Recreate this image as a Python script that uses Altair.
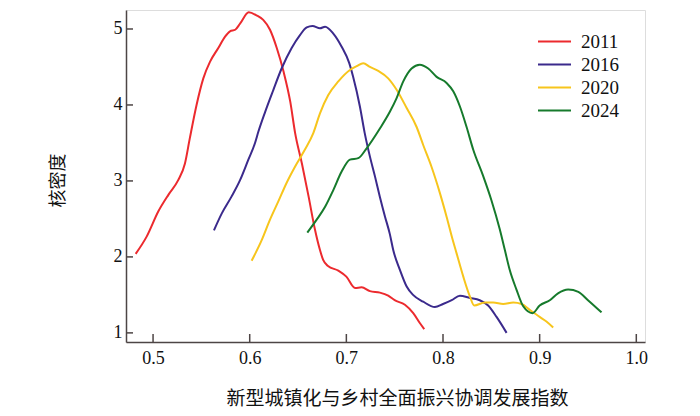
import altair as alt
import pandas as pd

years = ["2011", "2016", "2020", "2024"]
colors = ["#ec2a2e", "#3b2a8c", "#f7c51c", "#167a2c"]

x2011 = [0.482, 0.4935, 0.5055, 0.516, 0.526, 0.533, 0.538, 0.545, 0.552, 0.559, 0.5675, 0.5745, 0.5796, 0.585,
         0.590, 0.599, 0.607, 0.614, 0.621, 0.628, 0.635, 0.642, 0.647, 0.654, 0.661, 0.6675, 0.6727, 0.676,
         0.681, 0.6917, 0.700, 0.709, 0.7158, 0.7244, 0.7347, 0.7433, 0.750, 0.7606, 0.7692, 0.776, 0.7806]
y2011 = [2.04, 2.27, 2.60, 2.82, 3.01, 3.23, 3.56, 4.00, 4.35, 4.57, 4.75, 4.90, 4.97, 4.99,
         5.07, 5.22, 5.18, 5.12, 4.99, 4.75, 4.44, 4.04, 3.63, 3.23, 2.79, 2.36, 2.09, 1.96,
         1.88, 1.82, 1.74, 1.59, 1.60, 1.55, 1.53, 1.49, 1.43, 1.37, 1.26, 1.13, 1.05]

x2016 = [0.563, 0.571, 0.581, 0.590, 0.5986, 0.6055, 0.609, 0.616, 0.6245, 0.633, 0.6434, 0.652, 0.659, 0.665,
         0.6727, 0.678, 0.6865, 0.695, 0.703, 0.707, 0.714, 0.719, 0.7244, 0.7296, 0.7347, 0.740, 0.745,
         0.7485, 0.7554, 0.7624, 0.769, 0.7795, 0.7916, 0.800, 0.809, 0.8175, 0.8278, 0.838, 0.8467, 0.8554, 0.8658]
y2016 = [2.35, 2.57, 2.79, 3.01, 3.28, 3.50, 3.65, 3.91, 4.20, 4.48, 4.75, 4.92, 5.02, 5.04,
         5.01, 5.03, 4.94, 4.77, 4.55, 4.37, 3.98, 3.63, 3.32, 3.06, 2.79, 2.53, 2.30,
         2.09, 1.83, 1.61, 1.50, 1.41, 1.34, 1.38, 1.43, 1.49, 1.46, 1.43, 1.36, 1.21, 1.00]

x2020 = [0.602, 0.6124, 0.621, 0.6296, 0.638, 0.647, 0.657, 0.6658, 0.6727, 0.6813, 0.6917, 0.7037, 0.7106,
         0.7175, 0.7244, 0.733, 0.7433, 0.752, 0.7624, 0.7727, 0.7796, 0.788, 0.7968, 0.8037, 0.8095, 0.814,
         0.821, 0.8278, 0.8323, 0.8433, 0.852, 0.8623, 0.8727, 0.8813, 0.890, 0.900, 0.907, 0.914]
y2020 = [1.95, 2.22, 2.49, 2.73, 2.97, 3.19, 3.41, 3.63, 3.89, 4.13, 4.31, 4.46, 4.51,
         4.55, 4.50, 4.45, 4.35, 4.20, 3.96, 3.71, 3.47, 3.19, 2.84, 2.53, 2.25, 2.05,
         1.74, 1.48, 1.36, 1.40, 1.40, 1.38, 1.40, 1.38, 1.30, 1.21, 1.15, 1.07]

x2024 = [0.6596, 0.6693, 0.678, 0.6865, 0.695, 0.7037, 0.7123, 0.721, 0.7347, 0.745, 0.752, 0.7589, 0.7675,
         0.776, 0.7847, 0.7934, 0.8037, 0.8106, 0.8175, 0.8244, 0.8313, 0.8417, 0.850, 0.8588, 0.864, 0.869,
         0.876, 0.883, 0.8926, 0.900, 0.9105, 0.919, 0.9295, 0.940, 0.950, 0.964]
y2024 = [2.32, 2.49, 2.66, 2.88, 3.12, 3.28, 3.30, 3.43, 3.69, 3.91, 4.09, 4.31, 4.48,
         4.53, 4.48, 4.37, 4.29, 4.18, 3.98, 3.71, 3.41, 3.06, 2.75, 2.36, 2.09, 1.83,
         1.57, 1.35, 1.26, 1.36, 1.43, 1.52, 1.57, 1.54, 1.43, 1.27]

x_ticks = [0.5, 0.6, 0.7, 0.8, 0.9, 1.0]
y_ticks = [1, 2, 3, 4, 5]

rows = []
for yr, xs, ys in [("2011", x2011, y2011), ("2016", x2016, y2016),
                   ("2020", x2020, y2020), ("2024", x2024, y2024)]:
    for i, (a, b) in enumerate(zip(xs, ys)):
        rows.append({"year": yr, "x": a, "y": b, "i": i})
df = pd.DataFrame(rows)

W, H = 519, 332
serif = "Liberation Serif"
cjk = "Noto Sans CJK SC"
axis_color = "#4d4545"

xscale = alt.Scale(domain=[0.472, 1.009], nice=False, zero=False)
yscale = alt.Scale(domain=[0.88, 5.25], nice=False, zero=False)

lines = alt.Chart(df).mark_line(strokeWidth=2, interpolate="monotone").encode(
    x=alt.X("x:Q", scale=xscale, axis=alt.Axis(
        values=x_ticks, format=".1f", ticks=False, grid=False,
        domainColor=axis_color, domainWidth=1.5,
        labelFont=serif, labelFontSize=18, labelColor="#111", labelPadding=7,
        title="新型城镇化与乡村全面振兴协调发展指数", titleFont=cjk, titleFontSize=19,
        titleFontWeight="normal", titleColor="#111", titleX=271, titleY=56,
        titleAlign="center", titleBaseline="middle")),
    y=alt.Y("y:Q", scale=yscale, axis=alt.Axis(
        values=y_ticks, format="d", ticks=False, grid=False,
        domainColor=axis_color, domainWidth=1.5,
        labelFont=serif, labelFontSize=18, labelColor="#111", labelPadding=4,
        title="核密度", titleFont=cjk, titleFontSize=18, titleFontWeight="normal",
        titleColor="#111", titleX=-68, titleY=170, titleAlign="center",
        titleBaseline="middle", titleAngle=270)),
    color=alt.Color("year:N", scale=alt.Scale(domain=years, range=colors),
                    legend=alt.Legend(title=None, orient="none", legendX=419, legendY=22,
                                      symbolType="M-3.3,0H3.3", symbolSize=100, symbolStrokeWidth=2,
                                      symbolFillColor="transparent",
                                      labelFont=serif, labelFontSize=19, labelColor="#111",
                                      labelOffset=17, rowPadding=3, padding=0)),
    order="i:Q",
)

xt = alt.Chart(pd.DataFrame({"t": x_ticks})).mark_rule(color=axis_color, strokeWidth=1.5).encode(
    x=alt.X("t:Q", scale=xscale), y=alt.value(H), y2=alt.value(H - 8))
yt = alt.Chart(pd.DataFrame({"t": y_ticks})).mark_rule(color=axis_color, strokeWidth=1.5).encode(
    y=alt.Y("t:Q", scale=yscale), x=alt.value(0), x2=alt.value(7))

chart = alt.layer(lines, xt, yt).properties(
    width=W, height=H, autosize=alt.AutoSizeParams(type="none"),
    padding={"left": 118, "top": 2, "right": 47, "bottom": 66},
).configure_view(stroke=None).configure(background="white")

chart.save("out.html", embed_options={"renderer": "svg", "actions": False})
